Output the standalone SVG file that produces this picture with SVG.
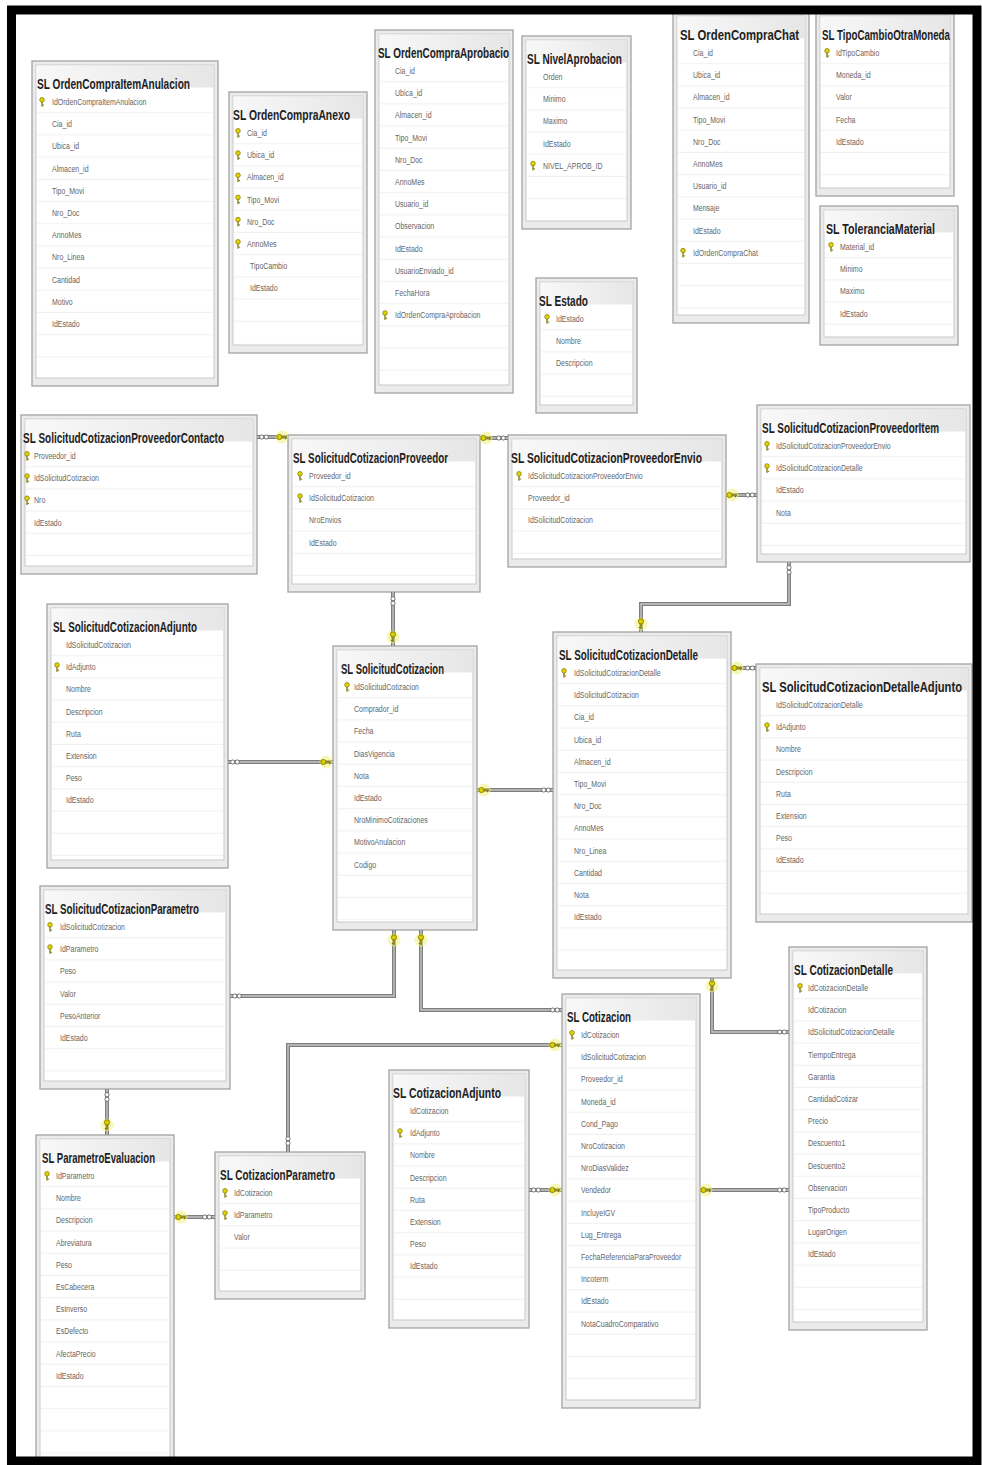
<svg xmlns="http://www.w3.org/2000/svg" width="982" height="1465" viewBox="0 0 982 1465">
<style>
.bx{fill:#ebebeb;stroke:#a3a3a3;stroke-width:1.3}
.in{fill:#fff;stroke:#c9c9c9;stroke-width:1}
.rw{fill:url(#rows)}
.hd{fill:url(#hdg)}
.t{font-family:"Liberation Sans",Arial,sans-serif;font-weight:bold;font-size:10px;fill:#1e1e1e}
.f{font-family:"Liberation Sans",Arial,sans-serif;font-size:7px;fill:#666}
.co{fill:none;stroke:#7e7e7e;stroke-width:4}
.ci{fill:none;stroke:#c6c6c6;stroke-width:1.4}
</style>
<defs>
<linearGradient id="hdg" x1="0" y1="0" x2="1" y2="0">
<stop offset="0" stop-color="#f8f8f8"/><stop offset="1" stop-color="#e6e6e6"/>
</linearGradient>
<pattern id="rows" patternUnits="userSpaceOnUse" x="0" y="30" width="20" height="22.2">
<line x1="0" y1="21.6" x2="20" y2="21.6" stroke="#f0f0f0" stroke-width="1"/>
</pattern>
<g id="pk">
<circle cx="0" cy="-2.2" r="2.3" fill="#e4d300" stroke="#7d7200" stroke-width="0.7"/>
<rect x="-0.65" y="0" width="1.3" height="4.6" fill="#7d7200"/>
<rect x="0.6" y="2.6" width="1.5" height="1" fill="#7d7200"/>
</g>
<g id="ck">
<circle r="6.5" fill="#f3f27a" opacity="0.55"/>
<circle cx="-2.6" cy="0" r="2.6" fill="#dccf00" stroke="#7a7000" stroke-width="0.8"/>
<rect x="0" y="-0.7" width="5" height="1.4" fill="#7a7000"/>
<rect x="3" y="0.6" width="1" height="1.6" fill="#7a7000"/>
</g>
<g id="ckv"><use href="#ck" transform="rotate(90)"/></g>
<g id="inf">
<circle cx="-2.3" cy="0" r="2.1" fill="#fff" stroke="#6e6e6e" stroke-width="0.9"/>
<circle cx="2.3" cy="0" r="2.1" fill="#fff" stroke="#6e6e6e" stroke-width="0.9"/>
</g>
<g id="infv"><use href="#inf" transform="rotate(90)"/></g>
</defs>
<rect width="982" height="1465" fill="#fff"/>

<g id="t-OrdenCompraItemAnulacion" transform="translate(32,61)">
<rect class="bx" width="186" height="325"/><rect class="in" x="4" y="4" width="178" height="313"/><rect class="hd" x="4.5" y="4.5" width="177" height="22"/><rect class="rw" x="5" y="30" width="176" height="285"/>
<text class="t" transform="translate(5,28) scale(1,1.4)" textLength="153" lengthAdjust="spacingAndGlyphs">SL OrdenCompraItemAnulacion</text>
<use href="#pk" x="10" y="41"/>
<text class="f" transform="translate(20,44) scale(1,1.3)"><tspan x="0" y="0">IdOrdenCompraItemAnulacion</tspan><tspan x="0" dy="17.077">Cia_id</tspan><tspan x="0" dy="17.077">Ubica_id</tspan><tspan x="0" dy="17.077">Almacen_id</tspan><tspan x="0" dy="17.077">Tipo_Movi</tspan><tspan x="0" dy="17.077">Nro_Doc</tspan><tspan x="0" dy="17.077">AnnoMes</tspan><tspan x="0" dy="17.077">Nro_Linea</tspan><tspan x="0" dy="17.077">Cantidad</tspan><tspan x="0" dy="17.077">Motivo</tspan><tspan x="0" dy="17.077">IdEstado</tspan></text>
</g>

<g id="t-OrdenCompraAnexo" transform="translate(229,92)">
<rect class="bx" width="138" height="261"/><rect class="in" x="4" y="4" width="130" height="249"/><rect class="hd" x="4.5" y="4.5" width="129" height="22"/><rect class="rw" x="5" y="30" width="128" height="221"/>
<text class="t" transform="translate(4,28) scale(1,1.4)" textLength="117" lengthAdjust="spacingAndGlyphs">SL OrdenCompraAnexo</text>
<use href="#pk" x="9" y="41"/><use href="#pk" x="9" y="63.2"/><use href="#pk" x="9" y="85.4"/><use href="#pk" x="9" y="107.6"/><use href="#pk" x="9" y="129.8"/><use href="#pk" x="9" y="152"/>
<text class="f" transform="translate(18,44) scale(1,1.3)"><tspan x="0" y="0">Cia_id</tspan><tspan x="0" dy="17.077">Ubica_id</tspan><tspan x="0" dy="17.077">Almacen_id</tspan><tspan x="0" dy="17.077">Tipo_Movi</tspan><tspan x="0" dy="17.077">Nro_Doc</tspan><tspan x="0" dy="17.077">AnnoMes</tspan><tspan x="3" dy="17.077">TipoCambio</tspan><tspan x="3" dy="17.077">IdEstado</tspan></text>
</g>

<g id="t-OrdenCompraAprobacion" transform="translate(375,30)">
<rect class="bx" width="138" height="363"/><rect class="in" x="4" y="4" width="130" height="351"/><rect class="hd" x="4.5" y="4.5" width="129" height="22"/><rect class="rw" x="5" y="30" width="128" height="323"/>
<text class="t" transform="translate(3,28) scale(1,1.4)" textLength="131" lengthAdjust="spacingAndGlyphs">SL OrdenCompraAprobacio</text>
<use href="#pk" x="10" y="285.2"/>
<text class="f" transform="translate(20,44) scale(1,1.3)"><tspan x="0" y="0">Cia_id</tspan><tspan x="0" dy="17.077">Ubica_id</tspan><tspan x="0" dy="17.077">Almacen_id</tspan><tspan x="0" dy="17.077">Tipo_Movi</tspan><tspan x="0" dy="17.077">Nro_Doc</tspan><tspan x="0" dy="17.077">AnnoMes</tspan><tspan x="0" dy="17.077">Usuario_id</tspan><tspan x="0" dy="17.077">Observacion</tspan><tspan x="0" dy="17.077">IdEstado</tspan><tspan x="0" dy="17.077">UsuarioEnviado_id</tspan><tspan x="0" dy="17.077">FechaHora</tspan><tspan x="0" dy="17.077">IdOrdenCompraAprobacion</tspan></text>
</g>

<g id="t-NivelAprobacion" transform="translate(522,36)">
<rect class="bx" width="109" height="193"/><rect class="in" x="4" y="4" width="101" height="181"/><rect class="hd" x="4.5" y="4.5" width="100" height="22"/><rect class="rw" x="5" y="30" width="99" height="153"/>
<text class="t" transform="translate(5,28) scale(1,1.4)" textLength="95" lengthAdjust="spacingAndGlyphs">SL NivelAprobacion</text>
<use href="#pk" x="11" y="129.8"/>
<text class="f" transform="translate(21,44) scale(1,1.3)"><tspan x="0" y="0">Orden</tspan><tspan x="0" dy="17.077">Minimo</tspan><tspan x="0" dy="17.077">Maximo</tspan><tspan x="0" dy="17.077">IdEstado</tspan><tspan x="0" dy="17.077">NIVEL_APROB_ID</tspan></text>
</g>

<g id="t-Estado" transform="translate(536,278)">
<rect class="bx" width="101" height="135"/><rect class="in" x="4" y="4" width="93" height="123"/><rect class="hd" x="4.5" y="4.5" width="92" height="22"/><rect class="rw" x="5" y="30" width="91" height="95"/>
<text class="t" transform="translate(3,28) scale(1,1.4)" textLength="49" lengthAdjust="spacingAndGlyphs">SL Estado</text>
<use href="#pk" x="11" y="41"/>
<text class="f" transform="translate(20,44) scale(1,1.3)"><tspan x="0" y="0">IdEstado</tspan><tspan x="0" dy="17.077">Nombre</tspan><tspan x="0" dy="17.077">Descripcion</tspan></text>
</g>

<g id="t-OrdenCompraChat" transform="translate(673,12)">
<rect class="bx" width="136" height="311"/><rect class="in" x="4" y="4" width="128" height="299"/><rect class="hd" x="4.5" y="4.5" width="127" height="22"/><rect class="rw" x="5" y="30" width="126" height="271"/>
<text class="t" transform="translate(7,28) scale(1,1.4)" textLength="119" lengthAdjust="spacingAndGlyphs">SL OrdenCompraChat</text>
<use href="#pk" x="10" y="240.8"/>
<text class="f" transform="translate(20,44) scale(1,1.3)"><tspan x="0" y="0">Cia_id</tspan><tspan x="0" dy="17.077">Ubica_id</tspan><tspan x="0" dy="17.077">Almacen_id</tspan><tspan x="0" dy="17.077">Tipo_Movi</tspan><tspan x="0" dy="17.077">Nro_Doc</tspan><tspan x="0" dy="17.077">AnnoMes</tspan><tspan x="0" dy="17.077">Usuario_id</tspan><tspan x="0" dy="17.077">Mensaje</tspan><tspan x="0" dy="17.077">IdEstado</tspan><tspan x="0" dy="17.077">IdOrdenCompraChat</tspan></text>
</g>

<g id="t-TipoCambioOtraMoneda" transform="translate(816,12)">
<rect class="bx" width="138" height="184"/><rect class="in" x="4" y="4" width="130" height="172"/><rect class="hd" x="4.5" y="4.5" width="129" height="22"/><rect class="rw" x="5" y="30" width="128" height="144"/>
<text class="t" transform="translate(6,28) scale(1,1.4)" textLength="128" lengthAdjust="spacingAndGlyphs">SL TipoCambioOtraMoneda</text>
<use href="#pk" x="11" y="41"/>
<text class="f" transform="translate(20,44) scale(1,1.3)"><tspan x="0" y="0">IdTipoCambio</tspan><tspan x="0" dy="17.077">Moneda_id</tspan><tspan x="0" dy="17.077">Valor</tspan><tspan x="0" dy="17.077">Fecha</tspan><tspan x="0" dy="17.077">IdEstado</tspan></text>
</g>

<g id="t-ToleranciaMaterial" transform="translate(820,206)">
<rect class="bx" width="138" height="139"/><rect class="in" x="4" y="4" width="130" height="127"/><rect class="hd" x="4.5" y="4.5" width="129" height="22"/><rect class="rw" x="5" y="30" width="128" height="99"/>
<text class="t" transform="translate(6,28) scale(1,1.4)" textLength="109" lengthAdjust="spacingAndGlyphs">SL ToleranciaMaterial</text>
<use href="#pk" x="11" y="41"/>
<text class="f" transform="translate(20,44) scale(1,1.3)"><tspan x="0" y="0">Material_id</tspan><tspan x="0" dy="17.077">Minimo</tspan><tspan x="0" dy="17.077">Maximo</tspan><tspan x="0" dy="17.077">IdEstado</tspan></text>
</g>

<g id="t-SolicitudCotizacionProveedorContacto" transform="translate(21,415)">
<rect class="bx" width="236" height="159"/><rect class="in" x="4" y="4" width="228" height="147"/><rect class="hd" x="4.5" y="4.5" width="227" height="22"/><rect class="rw" x="5" y="30" width="226" height="119"/>
<text class="t" transform="translate(2,28) scale(1,1.4)" textLength="201" lengthAdjust="spacingAndGlyphs">SL SolicitudCotizacionProveedorContacto</text>
<use href="#pk" x="6" y="41"/><use href="#pk" x="6" y="63.2"/><use href="#pk" x="6" y="85.4"/>
<text class="f" transform="translate(13,44) scale(1,1.3)"><tspan x="0" y="0">Proveedor_id</tspan><tspan x="0" dy="17.077">IdSolicitudCotizacion</tspan><tspan x="0" dy="17.077">Nro</tspan><tspan x="0" dy="17.077">IdEstado</tspan></text>
</g>

<g id="t-SolicitudCotizacionProveedor" transform="translate(288,435)">
<rect class="bx" width="192" height="157"/><rect class="in" x="4" y="4" width="184" height="145"/><rect class="hd" x="4.5" y="4.5" width="183" height="22"/><rect class="rw" x="5" y="30" width="182" height="117"/>
<text class="t" transform="translate(5,28) scale(1,1.4)" textLength="155" lengthAdjust="spacingAndGlyphs">SL SolicitudCotizacionProveedor</text>
<use href="#pk" x="12" y="41"/><use href="#pk" x="12" y="63.2"/>
<text class="f" transform="translate(21,44) scale(1,1.3)"><tspan x="0" y="0">Proveedor_id</tspan><tspan x="0" dy="17.077">IdSolicitudCotizacion</tspan><tspan x="0" dy="17.077">NroEnvios</tspan><tspan x="0" dy="17.077">IdEstado</tspan></text>
</g>

<g id="t-SolicitudCotizacionProveedorEnvio" transform="translate(508,435)">
<rect class="bx" width="218" height="132"/><rect class="in" x="4" y="4" width="210" height="120"/><rect class="hd" x="4.5" y="4.5" width="209" height="22"/><rect class="rw" x="5" y="30" width="208" height="92"/>
<text class="t" transform="translate(3,28) scale(1,1.4)" textLength="191" lengthAdjust="spacingAndGlyphs">SL SolicitudCotizacionProveedorEnvio</text>
<use href="#pk" x="11" y="41"/>
<text class="f" transform="translate(20,44) scale(1,1.3)"><tspan x="0" y="0">IdSolicitudCotizacionProveedorEnvio</tspan><tspan x="0" dy="17.077">Proveedor_id</tspan><tspan x="0" dy="17.077">IdSolicitudCotizacion</tspan></text>
</g>

<g id="t-SolicitudCotizacionProveedorItem" transform="translate(757,405)">
<rect class="bx" width="213" height="157"/><rect class="in" x="4" y="4" width="205" height="145"/><rect class="hd" x="4.5" y="4.5" width="204" height="22"/><rect class="rw" x="5" y="30" width="203" height="117"/>
<text class="t" transform="translate(5,28) scale(1,1.4)" textLength="177" lengthAdjust="spacingAndGlyphs">SL SolicitudCotizacionProveedorItem</text>
<use href="#pk" x="10" y="41"/><use href="#pk" x="10" y="63.2"/>
<text class="f" transform="translate(19,44) scale(1,1.3)"><tspan x="0" y="0">IdSolicitudCotizacionProveedorEnvio</tspan><tspan x="0" dy="17.077">IdSolicitudCotizacionDetalle</tspan><tspan x="0" dy="17.077">IdEstado</tspan><tspan x="0" dy="17.077">Nota</tspan></text>
</g>

<g id="t-SolicitudCotizacionAdjunto" transform="translate(47,604)">
<rect class="bx" width="181" height="264"/><rect class="in" x="4" y="4" width="173" height="252"/><rect class="hd" x="4.5" y="4.5" width="172" height="22"/><rect class="rw" x="5" y="30" width="171" height="224"/>
<text class="t" transform="translate(6,28) scale(1,1.4)" textLength="144" lengthAdjust="spacingAndGlyphs">SL SolicitudCotizacionAdjunto</text>
<use href="#pk" x="10" y="63.2"/>
<text class="f" transform="translate(19,44) scale(1,1.3)"><tspan x="0" y="0">IdSolicitudCotizacion</tspan><tspan x="0" dy="17.077">IdAdjunto</tspan><tspan x="0" dy="17.077">Nombre</tspan><tspan x="0" dy="17.077">Descripcion</tspan><tspan x="0" dy="17.077">Ruta</tspan><tspan x="0" dy="17.077">Extension</tspan><tspan x="0" dy="17.077">Peso</tspan><tspan x="0" dy="17.077">IdEstado</tspan></text>
</g>

<g id="t-SolicitudCotizacion" transform="translate(333,646)">
<rect class="bx" width="144" height="284"/><rect class="in" x="4" y="4" width="136" height="272"/><rect class="hd" x="4.5" y="4.5" width="135" height="22"/><rect class="rw" x="5" y="30" width="134" height="244"/>
<text class="t" transform="translate(8,28) scale(1,1.4)" textLength="103" lengthAdjust="spacingAndGlyphs">SL SolicitudCotizacion</text>
<use href="#pk" x="14" y="41"/>
<text class="f" transform="translate(21,44) scale(1,1.3)"><tspan x="0" y="0">IdSolicitudCotizacion</tspan><tspan x="0" dy="17.077">Comprador_id</tspan><tspan x="0" dy="17.077">Fecha</tspan><tspan x="0" dy="17.077">DiasVigencia</tspan><tspan x="0" dy="17.077">Nota</tspan><tspan x="0" dy="17.077">IdEstado</tspan><tspan x="0" dy="17.077">NroMinimoCotizaciones</tspan><tspan x="0" dy="17.077">MotivoAnulacion</tspan><tspan x="0" dy="17.077">Codigo</tspan></text>
</g>

<g id="t-SolicitudCotizacionDetalle" transform="translate(553,632)">
<rect class="bx" width="178" height="346"/><rect class="in" x="4" y="4" width="170" height="334"/><rect class="hd" x="4.5" y="4.5" width="169" height="22"/><rect class="rw" x="5" y="30" width="168" height="306"/>
<text class="t" transform="translate(6,28) scale(1,1.4)" textLength="139" lengthAdjust="spacingAndGlyphs">SL SolicitudCotizacionDetalle</text>
<use href="#pk" x="11" y="41"/>
<text class="f" transform="translate(21,44) scale(1,1.3)"><tspan x="0" y="0">IdSolicitudCotizacionDetalle</tspan><tspan x="0" dy="17.077">IdSolicitudCotizacion</tspan><tspan x="0" dy="17.077">Cia_id</tspan><tspan x="0" dy="17.077">Ubica_id</tspan><tspan x="0" dy="17.077">Almacen_id</tspan><tspan x="0" dy="17.077">Tipo_Movi</tspan><tspan x="0" dy="17.077">Nro_Doc</tspan><tspan x="0" dy="17.077">AnnoMes</tspan><tspan x="0" dy="17.077">Nro_Linea</tspan><tspan x="0" dy="17.077">Cantidad</tspan><tspan x="0" dy="17.077">Nota</tspan><tspan x="0" dy="17.077">IdEstado</tspan></text>
</g>

<g id="t-SolicitudCotizacionDetalleAdjunto" transform="translate(756,664)">
<rect class="bx" width="216" height="258"/><rect class="in" x="4" y="4" width="208" height="246"/><rect class="hd" x="4.5" y="4.5" width="207" height="22"/><rect class="rw" x="5" y="30" width="206" height="218"/>
<text class="t" transform="translate(6,28) scale(1,1.4)" textLength="200" lengthAdjust="spacingAndGlyphs">SL SolicitudCotizacionDetalleAdjunto</text>
<use href="#pk" x="11" y="63.2"/>
<text class="f" transform="translate(20,44) scale(1,1.3)"><tspan x="0" y="0">IdSolicitudCotizacionDetalle</tspan><tspan x="0" dy="17.077">IdAdjunto</tspan><tspan x="0" dy="17.077">Nombre</tspan><tspan x="0" dy="17.077">Descripcion</tspan><tspan x="0" dy="17.077">Ruta</tspan><tspan x="0" dy="17.077">Extension</tspan><tspan x="0" dy="17.077">Peso</tspan><tspan x="0" dy="17.077">IdEstado</tspan></text>
</g>

<g id="t-SolicitudCotizacionParametro" transform="translate(40,886)">
<rect class="bx" width="190" height="203"/><rect class="in" x="4" y="4" width="182" height="191"/><rect class="hd" x="4.5" y="4.5" width="181" height="22"/><rect class="rw" x="5" y="30" width="180" height="163"/>
<text class="t" transform="translate(5,28) scale(1,1.4)" textLength="154" lengthAdjust="spacingAndGlyphs">SL SolicitudCotizacionParametro</text>
<use href="#pk" x="10" y="41"/><use href="#pk" x="10" y="63.2"/>
<text class="f" transform="translate(20,44) scale(1,1.3)"><tspan x="0" y="0">IdSolicitudCotizacion</tspan><tspan x="0" dy="17.077">IdParametro</tspan><tspan x="0" dy="17.077">Peso</tspan><tspan x="0" dy="17.077">Valor</tspan><tspan x="0" dy="17.077">PesoAnterior</tspan><tspan x="0" dy="17.077">IdEstado</tspan></text>
</g>

<g id="t-CotizacionDetalle" transform="translate(789,947)">
<rect class="bx" width="138" height="383"/><rect class="in" x="4" y="4" width="130" height="371"/><rect class="hd" x="4.5" y="4.5" width="129" height="22"/><rect class="rw" x="5" y="30" width="128" height="343"/>
<text class="t" transform="translate(5,28) scale(1,1.4)" textLength="99" lengthAdjust="spacingAndGlyphs">SL CotizacionDetalle</text>
<use href="#pk" x="11" y="41"/>
<text class="f" transform="translate(19,44) scale(1,1.3)"><tspan x="0" y="0">IdCotizacionDetalle</tspan><tspan x="0" dy="17.077">IdCotizacion</tspan><tspan x="0" dy="17.077">IdSolicitudCotizacionDetalle</tspan><tspan x="0" dy="17.077">TiempoEntrega</tspan><tspan x="0" dy="17.077">Garantia</tspan><tspan x="0" dy="17.077">CantidadCotizar</tspan><tspan x="0" dy="17.077">Precio</tspan><tspan x="0" dy="17.077">Descuento1</tspan><tspan x="0" dy="17.077">Descuento2</tspan><tspan x="0" dy="17.077">Observacion</tspan><tspan x="0" dy="17.077">TipoProducto</tspan><tspan x="0" dy="17.077">LugarOrigen</tspan><tspan x="0" dy="17.077">IdEstado</tspan></text>
</g>

<g id="t-Cotizacion" transform="translate(562,994)">
<rect class="bx" width="138" height="414"/><rect class="in" x="4" y="4" width="130" height="402"/><rect class="hd" x="4.5" y="4.5" width="129" height="22"/><rect class="rw" x="5" y="30" width="128" height="374"/>
<text class="t" transform="translate(5,28) scale(1,1.4)" textLength="64" lengthAdjust="spacingAndGlyphs">SL Cotizacion</text>
<use href="#pk" x="10" y="41"/>
<text class="f" transform="translate(19,44) scale(1,1.3)"><tspan x="0" y="0">IdCotizacion</tspan><tspan x="0" dy="17.077">IdSolicitudCotizacion</tspan><tspan x="0" dy="17.077">Proveedor_id</tspan><tspan x="0" dy="17.077">Moneda_id</tspan><tspan x="0" dy="17.077">Cond_Pago</tspan><tspan x="0" dy="17.077">NroCotizacion</tspan><tspan x="0" dy="17.077">NroDiasValidez</tspan><tspan x="0" dy="17.077">Vendedor</tspan><tspan x="0" dy="17.077">IncluyeIGV</tspan><tspan x="0" dy="17.077">Lug_Entrega</tspan><tspan x="0" dy="17.077">FechaReferenciaParaProveedor</tspan><tspan x="0" dy="17.077">Incoterm</tspan><tspan x="0" dy="17.077">IdEstado</tspan><tspan x="0" dy="17.077">NotaCuadroComparativo</tspan></text>
</g>

<g id="t-CotizacionAdjunto" transform="translate(389,1070)">
<rect class="bx" width="140" height="258"/><rect class="in" x="4" y="4" width="132" height="246"/><rect class="hd" x="4.5" y="4.5" width="131" height="22"/><rect class="rw" x="5" y="30" width="130" height="218"/>
<text class="t" transform="translate(4,28) scale(1,1.4)" textLength="108" lengthAdjust="spacingAndGlyphs">SL CotizacionAdjunto</text>
<use href="#pk" x="11" y="63.2"/>
<text class="f" transform="translate(21,44) scale(1,1.3)"><tspan x="0" y="0">IdCotizacion</tspan><tspan x="0" dy="17.077">IdAdjunto</tspan><tspan x="0" dy="17.077">Nombre</tspan><tspan x="0" dy="17.077">Descripcion</tspan><tspan x="0" dy="17.077">Ruta</tspan><tspan x="0" dy="17.077">Extension</tspan><tspan x="0" dy="17.077">Peso</tspan><tspan x="0" dy="17.077">IdEstado</tspan></text>
</g>

<g id="t-CotizacionParametro" transform="translate(215,1152)">
<rect class="bx" width="150" height="147"/><rect class="in" x="4" y="4" width="142" height="135"/><rect class="hd" x="4.5" y="4.5" width="141" height="22"/><rect class="rw" x="5" y="30" width="140" height="107"/>
<text class="t" transform="translate(5,28) scale(1,1.4)" textLength="115" lengthAdjust="spacingAndGlyphs">SL CotizacionParametro</text>
<use href="#pk" x="10" y="41"/><use href="#pk" x="10" y="63.2"/>
<text class="f" transform="translate(19,44) scale(1,1.3)"><tspan x="0" y="0">IdCotizacion</tspan><tspan x="0" dy="17.077">IdParametro</tspan><tspan x="0" dy="17.077">Valor</tspan></text>
</g>

<g id="t-ParametroEvaluacion" transform="translate(36,1135)">
<rect class="bx" width="138" height="335"/><rect class="in" x="4" y="4" width="130" height="323"/><rect class="hd" x="4.5" y="4.5" width="129" height="22"/><rect class="rw" x="5" y="30" width="128" height="295"/>
<text class="t" transform="translate(6,28) scale(1,1.4)" textLength="113" lengthAdjust="spacingAndGlyphs">SL ParametroEvaluacion</text>
<use href="#pk" x="11" y="41"/>
<text class="f" transform="translate(20,44) scale(1,1.3)"><tspan x="0" y="0">IdParametro</tspan><tspan x="0" dy="17.077">Nombre</tspan><tspan x="0" dy="17.077">Descripcion</tspan><tspan x="0" dy="17.077">Abreviatura</tspan><tspan x="0" dy="17.077">Peso</tspan><tspan x="0" dy="17.077">EsCabecera</tspan><tspan x="0" dy="17.077">EsInverso</tspan><tspan x="0" dy="17.077">EsDefecto</tspan><tspan x="0" dy="17.077">AfectaPrecio</tspan><tspan x="0" dy="17.077">IdEstado</tspan></text>
</g>

<g id="connectors">
<path class="co" d="M257,437 H288"/><path class="ci" d="M257,437 H288"/>
<path class="co" d="M480,438 H508"/><path class="ci" d="M480,438 H508"/>
<path class="co" d="M726,495 H757"/><path class="ci" d="M726,495 H757"/>
<path class="co" d="M789,562 V604 H641 V632"/><path class="ci" d="M789,562 V604 H641 V632"/>
<path class="co" d="M393,592 V646"/><path class="ci" d="M393,592 V646"/>
<path class="co" d="M228,762 H333"/><path class="ci" d="M228,762 H333"/>
<path class="co" d="M477,790 H553"/><path class="ci" d="M477,790 H553"/>
<path class="co" d="M731,668 H756"/><path class="ci" d="M731,668 H756"/>
<path class="co" d="M230,996 H394 V930"/><path class="ci" d="M230,996 H394 V930"/>
<path class="co" d="M421,930 V1010 H562"/><path class="ci" d="M421,930 V1010 H562"/>
<path class="co" d="M562,1045 H288 V1152"/><path class="ci" d="M562,1045 H288 V1152"/>
<path class="co" d="M107,1089 V1135"/><path class="ci" d="M107,1089 V1135"/>
<path class="co" d="M174,1217 H215"/><path class="ci" d="M174,1217 H215"/>
<path class="co" d="M529,1190 H562"/><path class="ci" d="M529,1190 H562"/>
<path class="co" d="M700,1190 H789"/><path class="ci" d="M700,1190 H789"/>
<path class="co" d="M712,978 V1032 H789"/><path class="ci" d="M712,978 V1032 H789"/>
<use href="#inf" x="264" y="437"/><use href="#ck" x="282" y="437"/>
<use href="#ck" x="486" y="438"/><use href="#inf" x="501" y="438"/>
<use href="#ck" x="732" y="495"/><use href="#inf" x="750" y="495"/>
<use href="#infv" x="789" y="570"/><use href="#ckv" x="641" y="624"/>
<use href="#infv" x="393" y="601"/><use href="#ckv" x="393" y="637"/>
<use href="#inf" x="235" y="762"/><use href="#ck" x="326" y="762"/>
<use href="#ck" x="484" y="790"/><use href="#inf" x="546" y="790"/>
<use href="#ck" x="737" y="668"/><use href="#inf" x="750" y="668"/>
<use href="#inf" x="237" y="996"/><use href="#ckv" x="394" y="940"/>
<use href="#ckv" x="421" y="940"/><use href="#inf" x="555" y="1010"/>
<use href="#ck" x="555" y="1045"/><use href="#infv" x="288" y="1141"/>
<use href="#infv" x="107" y="1097"/><use href="#ckv" x="107" y="1125"/>
<use href="#ck" x="181" y="1217"/><use href="#inf" x="207" y="1217"/>
<use href="#inf" x="536" y="1190"/><use href="#ck" x="555" y="1190"/>
<use href="#ck" x="706" y="1190"/><use href="#inf" x="782" y="1190"/>
<use href="#ckv" x="712" y="986"/><use href="#inf" x="782" y="1032"/>
</g>

<rect id="frame" x="11.5" y="10" width="965.5" height="1451" fill="none" stroke="#000" stroke-width="9"/>
</svg>
